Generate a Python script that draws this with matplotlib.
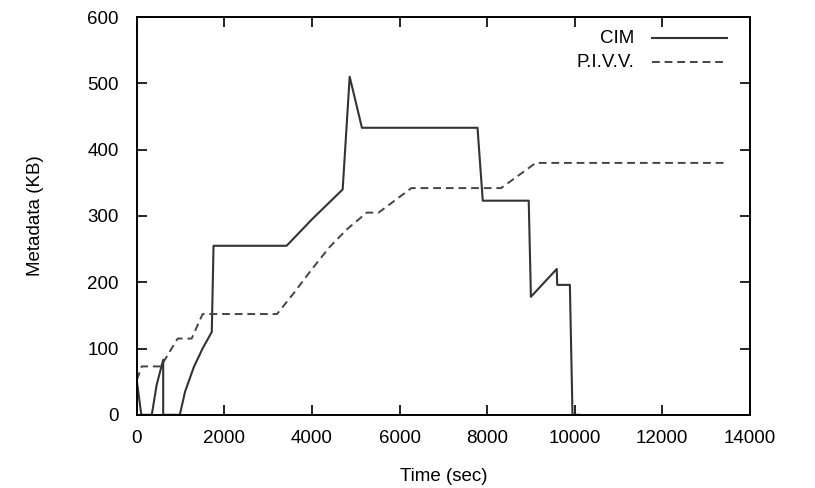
import matplotlib
matplotlib.use("Agg")
import matplotlib.pyplot as plt
from matplotlib.lines import Line2D

plt.rcParams['font.family'] = ['Liberation Sans', 'DejaVu Sans']

# CIM metadata size over time
cim_t = [0, 100, 100, 340, 450, 600, 600, 980, 1100, 1300, 1500, 1710, 1750,
         3420, 4000, 4700, 4860, 5140, 7780, 7900, 8950, 9000, 9590, 9600,
         9890, 9950, 10100]
cim_kb = [50, 0, 0, 0, 45, 83, 0, 0, 35, 72, 100, 125, 255,
          255, 295, 340, 510, 433, 433, 323, 323, 178, 220, 196,
          196, 0, 0]

# P.I.V.V. metadata size over time
pivv_t = [0, 110, 560, 610, 930, 1250, 1500, 3200, 3600, 4000, 4400, 4800,
          5250, 5520, 6270, 8320, 9110, 13480]
pivv_kb = [53, 73, 73, 80, 115, 115, 152, 152, 185, 220, 253, 280,
           305, 305, 342, 342, 380, 380]

fig = plt.figure(figsize=(8.15, 4.88), dpi=100)
ax = fig.add_axes([0.168, 0.150, 0.752, 0.815])

ax.plot(cim_t, cim_kb, color='#333333', lw=1.5, ls='-')
ax.plot(pivv_t, pivv_kb, color='#444444', lw=1.4, ls=(0, (4, 2.5)))

ax.set_xlim(0, 14000)
ax.set_ylim(0, 600)
ax.set_xticks(range(0, 14001, 2000))
ax.set_yticks(range(0, 601, 100))
ax.tick_params(direction='in', length=7, width=1.2, top=True, right=True,
               labelsize=13.5)
ax.tick_params(axis='y', pad=13)
ax.tick_params(axis='x', pad=11)
for s in ax.spines.values():
    s.set_linewidth(1.4)

ax.set_xlabel('Time (sec)', fontsize=13.5, labelpad=15)
ax.set_ylabel('Metadata (KB)', fontsize=13.5, labelpad=31)

# gnuplot-style key: right-aligned text followed by a line sample
ax.text(0.812, 0.947, 'CIM', transform=ax.transAxes, ha='right', va='center', fontsize=13.5)
ax.text(0.812, 0.887, 'P.I.V.V.', transform=ax.transAxes, ha='right', va='center', fontsize=13.5)
ax.add_line(Line2D([0.840, 0.962], [0.947, 0.947], transform=ax.transAxes,
                   color='#333333', lw=1.5))
ax.add_line(Line2D([0.840, 0.962], [0.887, 0.887], transform=ax.transAxes,
                   color='#444444', lw=1.4, ls=(0, (4, 2.5))))

fig.savefig('out.png', dpi=100)
